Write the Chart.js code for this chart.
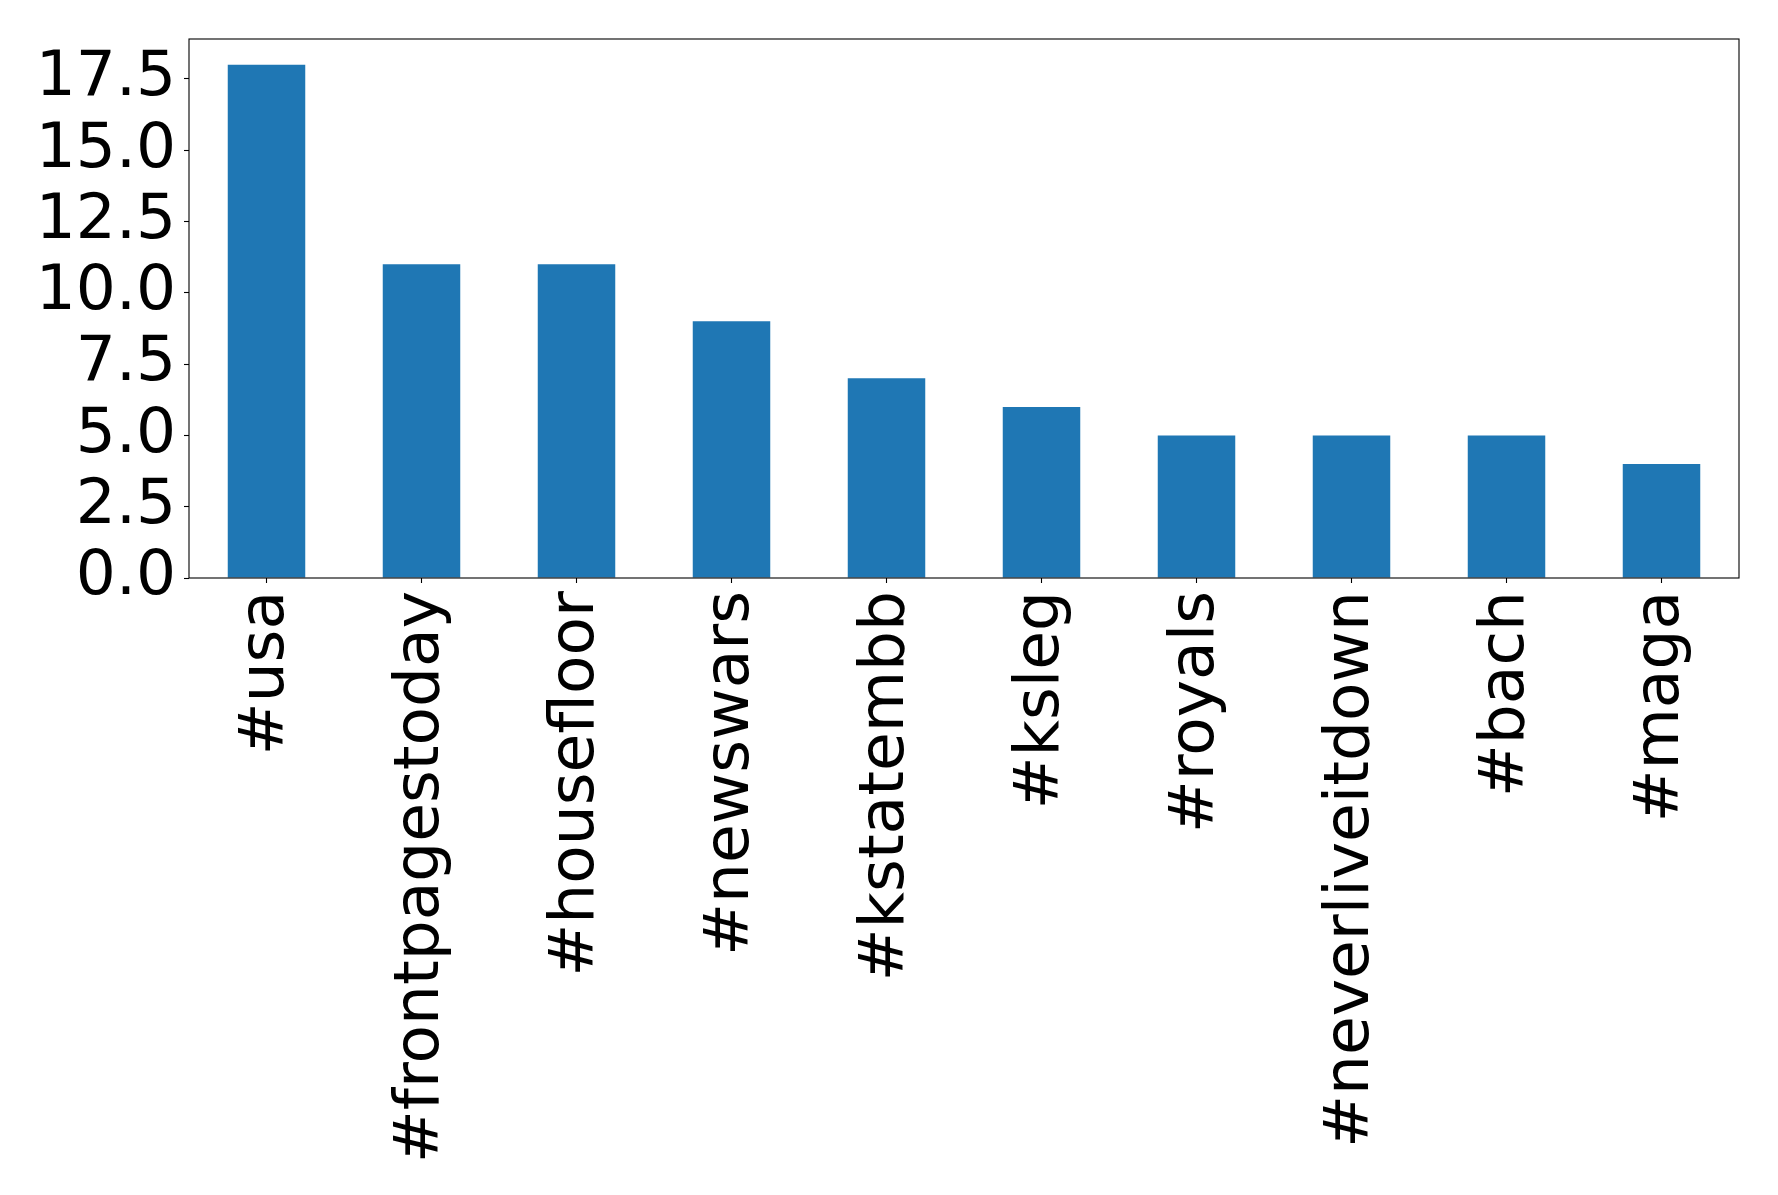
<!DOCTYPE html>
<html>
<head>
<meta charset="utf-8">
<script src="https://cdn.jsdelivr.net/npm/chart.js@4"></script>
<style>
  html, body { margin: 0; padding: 0; background: #fff; }
  #wrap { width: 1778px; height: 1195px; }
</style>
</head>
<body>
<div id="wrap"><canvas id="c" width="1778" height="1195"></canvas></div>
<script>
const categories = ['#usa', '#frontpagestoday', '#housefloor', '#newswars', '#kstatembb', '#ksleg', '#royals', '#neverliveitdown', '#bach', '#maga'];
const counts = [18, 11, 11, 9, 7, 6, 5, 5, 5, 4];
const yTickValues = [0, 2.5, 5, 7.5, 10, 12.5, 15, 17.5];
const yTickLabels = ['0.0', '2.5', '5.0', '7.5', '10.0', '12.5', '15.0', '17.5'];
const yMax = 18.9;

const FONT = 'DejaVu Sans';

const frame = {
  id: 'frame',
  afterDatasetsDraw(chart) {
    const a = chart.chartArea, ctx = chart.ctx;
    ctx.save();
    ctx.strokeStyle = '#000';
    ctx.lineWidth = 1.1;
    ctx.strokeRect(a.left, a.top, a.right - a.left, a.bottom - a.top);
    ctx.restore();
  }
};

new Chart(document.getElementById('c'), {
  type: 'bar',
  data: {
    labels: categories,
    datasets: [{
      data: counts,
      backgroundColor: '#1f77b4',
      borderWidth: 0,
      categoryPercentage: 1.0,
      barPercentage: 0.5
    }]
  },
  options: {
    responsive: false,
    animation: false,
    layout: { padding: { top: 39, right: 39, left: 0, bottom: 0 } },
    plugins: { legend: { display: false }, tooltip: { enabled: false } },
    scales: {
      x: {
        grid: { display: true, offset: false, drawOnChartArea: false, tickLength: 5, tickColor: '#000', tickWidth: 1.1 },
        border: { display: false },
        ticks: {
          color: '#000',
          font: { family: FONT, size: 63 },
          minRotation: 90, maxRotation: 90,
          autoSkip: false,
          padding: 8
        },
        afterFit(scale) { scale.height = 1195 - 578; scale.paddingLeft = 0; scale.paddingRight = 0; }
      },
      y: {
        min: 0, max: yMax,
        grid: { display: true, drawOnChartArea: false, tickLength: 5, tickColor: '#000', tickWidth: 1.1 },
        border: { display: false },
        afterBuildTicks(scale) { scale.ticks = yTickValues.map(v => ({ value: v })); },
        ticks: {
          color: '#000',
          font: { family: FONT, size: 63 },
          padding: 8,
          autoSkip: false,
          callback(value) {
            const i = yTickValues.indexOf(value);
            return i >= 0 ? yTickLabels[i] : '';
          }
        },
        afterFit(scale) { scale.width = 189; scale.paddingTop = 0; scale.paddingBottom = 0; }
      }
    }
  },
  plugins: [frame]
});
</script>
</body>
</html>
